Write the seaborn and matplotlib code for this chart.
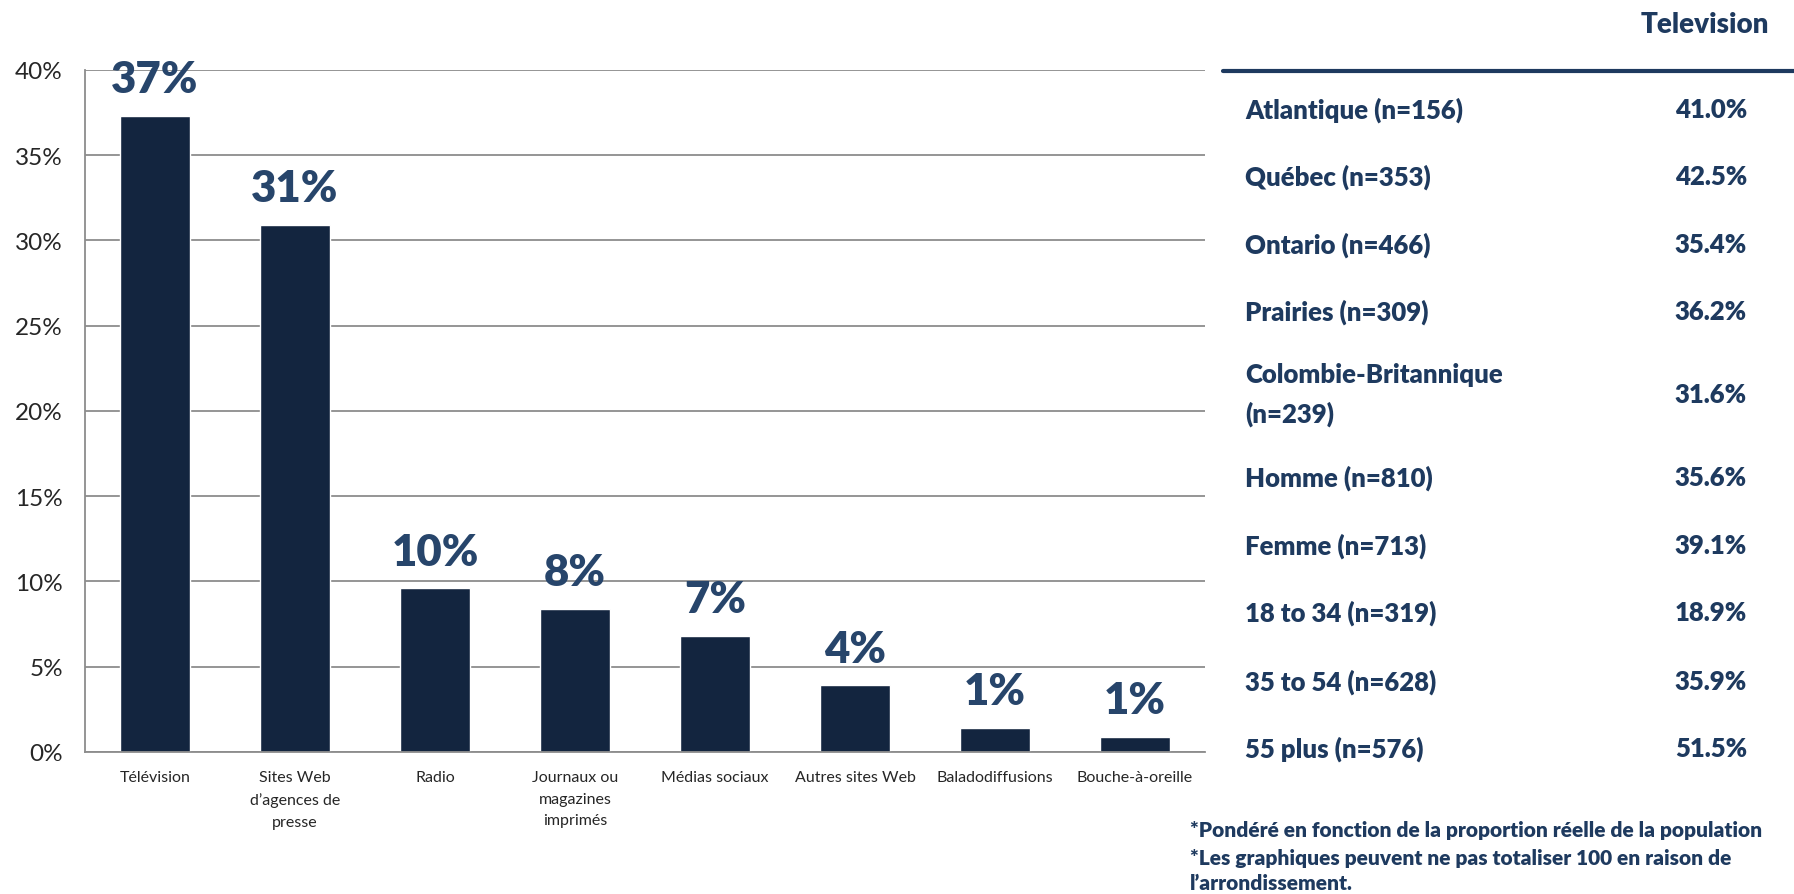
import matplotlib
matplotlib.use("Agg")
import matplotlib.pyplot as plt
import seaborn as sns
import pandas as pd
from matplotlib.ticker import PercentFormatter, FixedLocator

# chart data
categories = ["Télévision", "Sites Web\nd’agences de\npresse", "Radio",
              "Journaux ou\nmagazines\nimprimés", "Médias sociaux",
              "Autres sites Web", "Baladodiffusions", "Bouche-à-oreille"]
shares = [37.3, 30.9, 9.6, 8.4, 6.8, 3.9, 1.4, 0.9]
bar_labels = ["37%", "31%", "10%", "8%", "7%", "4%", "1%", "1%"]

# side table
table_header = "Television"
groups = ["Atlantique (n=156)", "Québec (n=353)", "Ontario (n=466)",
          "Prairies (n=309)", "Colombie-Britannique\n(n=239)", "Homme (n=810)",
          "Femme (n=713)", "18 to 34 (n=319)", "35 to 54 (n=628)",
          "55 plus (n=576)"]
tv_share = ["41.0%", "42.5%", "35.4%", "36.2%", "31.6%", "35.6%",
            "39.1%", "18.9%", "35.9%", "51.5%"]
notes = ["*Pondéré en fonction de la proportion réelle de la population",
         "*Les graphiques peuvent ne pas totaliser 100 en raison de",
         "l’arrondissement."]

sns.set_style("white")
plt.rcParams["font.family"] = ["Lato", "DejaVu Sans"]

bar_color = "#13253f"
label_color = "#27456b"
table_color = "#1e3a5f"
grid_color = "#8c8c8c"
heavy = "heavy"

df = pd.DataFrame({"cat": categories, "val": shares})

fig = plt.figure(figsize=(17.94, 8.95), dpi=100)
ax = fig.add_axes([0.0474, 0.1587, 0.6243, 0.762])
sns.barplot(data=df, x="cat", y="val", order=categories, color=bar_color,
            width=0.5, saturation=1, ax=ax)

ax.set_ylim(0, 40)
ax.set_xlim(-0.5, len(categories) - 0.5)
ax.yaxis.set_major_locator(FixedLocator(range(0, 41, 5)))
ax.yaxis.set_major_formatter(PercentFormatter(decimals=0))
ax.yaxis.grid(True, color=grid_color, linewidth=1.3)
ax.set_axisbelow(True)
ax.set_xlabel("")
ax.set_ylabel("")

for s in ["top", "right"]:
    ax.spines[s].set_visible(False)
for s in ["left", "bottom"]:
    ax.spines[s].set_color(grid_color)
    ax.spines[s].set_linewidth(1.3)

ax.tick_params(axis="y", which="major", length=10, width=1.3, color=grid_color,
               labelsize=17.5, pad=6)
ax.tick_params(axis="x", which="major", length=0, labelsize=11.5, pad=13)
for t in ax.get_xticklabels():
    t.set_linespacing(1.7)
ax.set_xticks([i - 0.5 for i in range(len(categories) + 1)], minor=True)
ax.tick_params(axis="x", which="minor", length=6, width=1.3, color=grid_color)

for i, (v, lab) in enumerate(zip(shares, bar_labels)):
    ax.annotate(lab, (i, v), xytext=(0, 12), textcoords="offset points",
                ha="center", va="bottom", fontsize=31.5, fontweight=heavy,
                color=label_color)

# side table
W, H = 1794, 895
fig.text(1769 / W, 1 - 25 / H, table_header, ha="right", va="center",
         fontsize=20, fontweight=heavy, color=table_color)
fig.add_artist(plt.Line2D([1223 / W, 1.0], [1 - 72 / H, 1 - 72 / H],
                          color=table_color, linewidth=3))
row_y = [110, 177, 245, 312, 395, 478, 546, 613, 682, 749]
for y, g, v in zip(row_y, groups, tv_share):
    fig.text(1245 / W, 1 - y / H, g, ha="left", va="center", fontsize=18.5,
             fontweight=heavy, color=table_color, linespacing=1.65)
    fig.text(1747 / W, 1 - y / H, v, ha="right", va="center", fontsize=18.5,
             fontweight=heavy, color=table_color)

for y, t in zip([831, 859, 884], notes):
    fig.text(1190 / W, 1 - y / H, t, ha="left", va="center", fontsize=15,
             fontweight=heavy, color=table_color)

fig.savefig("out.png", dpi=100)
